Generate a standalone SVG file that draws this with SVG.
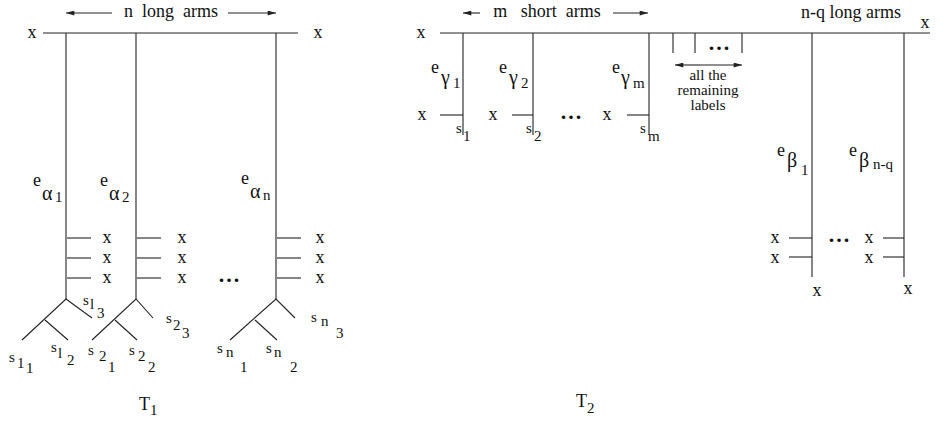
<svg xmlns="http://www.w3.org/2000/svg" width="947" height="431" viewBox="0 0 947 431" font-family="'Liberation Serif', 'Times New Roman', 'DejaVu Serif', serif">
<defs>
<marker id="ah" viewBox="0 0 10 6" refX="10" refY="3" markerWidth="10" markerHeight="5" markerUnits="userSpaceOnUse" orient="auto-start-reverse"><path d="M0,0 L10,3 L0,6 Z" fill="#222"/></marker>
<style>
text{font-family:'Liberation Serif','Times New Roman','DejaVu Serif',serif;fill:#111;font-size:18px}
.sub{font-size:15px}
.gr{font-size:20px}
.mid{text-anchor:middle}
.lab{font-size:15px}
.dots{font-size:22px;font-weight:bold;letter-spacing:2px;text-anchor:middle}
line,path.l{stroke:#222;stroke-width:1.1;fill:none}
.ar{marker-end:url(#ah)}
</style>
</defs>
<rect width="947" height="431" fill="#fff"/>

<g id="connectors">
<!-- T1 -->
<line x1="43" y1="33" x2="298" y2="33"/>
<line x1="66" y1="33" x2="66" y2="299"/>
<line x1="136" y1="33" x2="136" y2="299"/>
<line x1="276" y1="33" x2="276" y2="299"/>
<line x1="67" y1="238" x2="91" y2="238"/><line x1="67" y1="258" x2="91" y2="258"/><line x1="67" y1="278" x2="91" y2="278"/>
<line x1="137" y1="238" x2="161" y2="238"/><line x1="137" y1="258" x2="161" y2="258"/><line x1="137" y1="278" x2="161" y2="278"/>
<line x1="277" y1="238" x2="301" y2="238"/><line x1="277" y1="258" x2="301" y2="258"/><line x1="277" y1="278" x2="301" y2="278"/>
<path class="l" d="M22,340 L66,299 L92,318 M45,320 L68,340"/>
<path class="l" d="M92,340 L136,299 L153,318 M115,320 L137,340"/>
<path class="l" d="M230,340 L276,299 L295,318 M255,320 L277,340"/>
<line class="ar" x1="112" y1="13" x2="66" y2="13"/>
<line class="ar" x1="228" y1="13" x2="276" y2="13"/>
<!-- T2 -->
<line x1="440" y1="33" x2="930" y2="33"/>
<line x1="463" y1="33" x2="463" y2="135"/>
<line x1="533" y1="33" x2="533" y2="135"/>
<line x1="649" y1="33" x2="649" y2="135"/>
<line x1="440" y1="115" x2="463" y2="115"/>
<line x1="512" y1="115" x2="533" y2="115"/>
<line x1="627" y1="115" x2="649" y2="115"/>
<line x1="673" y1="33" x2="673" y2="53"/>
<line x1="695" y1="33" x2="695" y2="53"/>
<line x1="742" y1="33" x2="742" y2="53"/>
<line class="ar" x1="700" y1="65" x2="675" y2="65"/>
<line class="ar" x1="700" y1="65" x2="742" y2="65"/>
<line class="ar" x1="480" y1="13" x2="463" y2="13"/>
<line class="ar" x1="613" y1="13" x2="648" y2="13"/>
<line x1="812" y1="33" x2="812" y2="277"/>
<line x1="904" y1="33" x2="904" y2="277"/>
<line x1="789" y1="238" x2="812" y2="238"/><line x1="789" y1="257" x2="812" y2="257"/>
<line x1="883" y1="238" x2="904" y2="238"/><line x1="883" y1="257" x2="904" y2="257"/>
</g>

<g id="t1-labels">
<text class="mid" x="171" y="17" xml:space="preserve">n  long  arms</text>
<text class="mid" x="32" y="38">x</text>
<text class="mid" x="318" y="38">x</text>
</g>

<g id="arm-a1">
<text x="33" y="186">e<tspan class="gr" x="42" y="200">α</tspan><tspan class="sub" x="55" y="202">1</tspan></text>
<text class="mid" x="107" y="243">x</text><text class="mid" x="107" y="263">x</text><text class="mid" x="107" y="283">x</text>
<text class="sub" x="9" y="362">s<tspan x="17" y="368">1</tspan><tspan x="26" y="373">1</tspan></text>
<text class="sub" x="51" y="352">s<tspan x="58" y="358">l</tspan><tspan x="67" y="365">2</tspan></text>
<text class="sub" x="83" y="305">s<tspan x="90" y="309">l</tspan><tspan x="97" y="318">3</tspan></text>
</g>

<g id="arm-a2">
<text x="100" y="186">e<tspan class="gr" x="109" y="200">α</tspan><tspan class="sub" x="122" y="202">2</tspan></text>
<text class="mid" x="182" y="243">x</text><text class="mid" x="182" y="263">x</text><text class="mid" x="182" y="283">x</text>
<text class="sub" x="88" y="355">s<tspan x="99" y="361">2</tspan><tspan x="108" y="372">1</tspan></text>
<text class="sub" x="129" y="355">s<tspan x="138" y="361">2</tspan><tspan x="148" y="372">2</tspan></text>
<text class="sub" x="166" y="323">s<tspan x="173" y="330">2</tspan><tspan x="182" y="338">3</tspan></text>
</g>

<g id="arm-an">
<text x="241" y="184">e<tspan class="gr" x="250" y="198">α</tspan><tspan class="sub" x="263" y="200">n</tspan></text>
<text class="mid" x="320" y="243">x</text><text class="mid" x="320" y="263">x</text><text class="mid" x="320" y="283">x</text>
<text class="dots" x="230" y="282">...</text>
<text class="sub" x="217" y="353">s<tspan x="226" y="357">n</tspan><tspan x="240" y="372">1</tspan></text>
<text class="sub" x="266" y="353">s<tspan x="274" y="357">n</tspan><tspan x="290" y="372">2</tspan></text>
<text class="sub" x="311" y="322">s<tspan x="321" y="326">n</tspan><tspan x="336" y="338">3</tspan></text>
</g>

<g id="t2-labels">
<text class="mid" x="547" y="17" xml:space="preserve">m   short  arms</text>
<text class="mid" x="851" y="18">n-q long arms</text>
<text class="mid" x="421" y="38">x</text>
<text class="mid" x="925" y="28">x</text>
<text class="dots" x="720" y="50">...</text>
<text class="mid lab" x="708" y="80">all the<tspan x="708" dy="15">remaining</tspan><tspan x="708" dy="15">labels</tspan></text>
</g>

<g id="arm-g1">
<text x="431" y="73">e<tspan class="gr" x="441" y="84">γ</tspan><tspan class="sub" x="453" y="88">1</tspan></text>
<text class="mid" x="422" y="120">x</text>
<text class="sub" x="456" y="133">s<tspan x="463" y="141">1</tspan></text>
</g>
<g id="arm-g2">
<text x="499" y="73">e<tspan class="gr" x="509" y="84">γ</tspan><tspan class="sub" x="521" y="88">2</tspan></text>
<text class="mid" x="493" y="120">x</text>
<text class="dots" x="572" y="119">...</text>
<text class="sub" x="526" y="133">s<tspan x="534" y="141">2</tspan></text>
</g>
<g id="arm-gm">
<text x="612" y="73">e<tspan class="gr" x="621" y="84">γ</tspan><tspan class="sub" x="633" y="88">m</tspan></text>
<text class="mid" x="607" y="120">x</text>
<text class="sub" x="640" y="133">s<tspan x="648" y="141">m</tspan></text>
</g>

<g id="arm-b1">
<text x="777" y="156">e<tspan class="gr" x="787" y="167">β</tspan><tspan class="sub" x="801" y="175">1</tspan></text>
<text class="mid" x="775" y="243">x</text><text class="mid" x="775" y="263">x</text>
<text class="dots" x="840" y="242">...</text>
<text class="mid" x="817" y="296">x</text>
</g>
<g id="arm-bnq">
<text x="849" y="156">e<tspan class="gr" x="859" y="167">β</tspan><tspan class="sub" x="873" y="169">n-q</tspan></text>
<text class="mid" x="869" y="243">x</text><text class="mid" x="869" y="263">x</text>
<text class="mid" x="908" y="294">x</text>
</g>

<g id="captions">
<text x="139" y="410">T<tspan class="sub" x="150" y="415">1</tspan></text>
<text x="576" y="407">T<tspan class="sub" x="587" y="413">2</tspan></text>
</g>
</svg>
